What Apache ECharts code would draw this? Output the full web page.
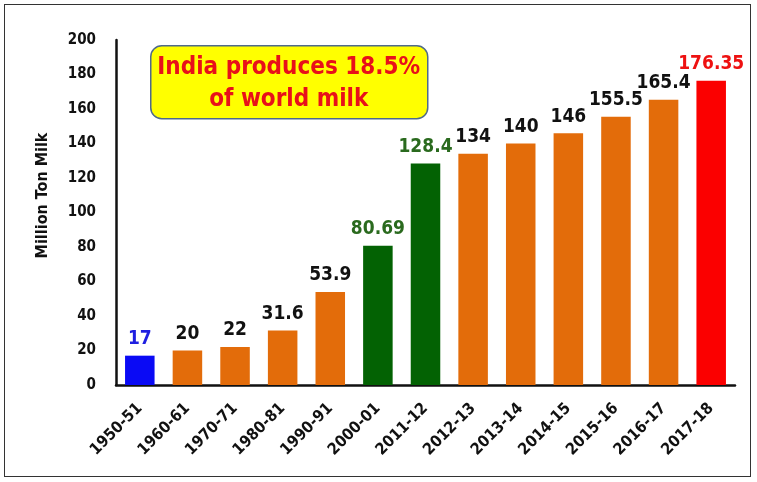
<!DOCTYPE html>
<html>
<head>
<meta charset="utf-8">
<script src="https://cdn.jsdelivr.net/npm/echarts@6/dist/echarts.min.js"></script>
<style>
  html, body { margin: 0; padding: 0; background: #fff; }
  #frame { position: absolute; left: 4px; top: 4px; width: 747px; height: 473px; border: 1.5px solid #333; box-sizing: border-box; }
  #chart { width: 757px; height: 482px; }
</style>
</head>
<body>
<div id="chart"></div>
<div id="frame"></div>
<script>
// Milk production in India (million tonnes)
const categories = ['1950-51', '1960-61', '1970-71', '1980-81', '1990-91', '2000-01', '2011-12',
                    '2012-13', '2013-14', '2014-15', '2015-16', '2016-17', '2017-18'];
const values = [17, 20, 22, 31.6, 53.9, 80.69, 128.4, 134, 140, 146, 155.5, 165.4, 176.35];
const valueLabels = ['17', '20', '22', '31.6', '53.9', '80.69', '128.4', '134', '140', '146', '155.5', '165.4', '176.35'];
const yTicks = [0, 20, 40, 60, 80, 100, 120, 140, 160, 180, 200];

// Fill and label colours per bar
const barColors = ['#0a0af5', '#e36c0a', '#e36c0a', '#e36c0a', '#e36c0a', '#036203', '#036203',
                   '#e36c0a', '#e36c0a', '#e36c0a', '#e36c0a', '#e36c0a', '#fb0000'];
const labelColors = ['#1f1fe0', '#111', '#111', '#111', '#111', '#2a6a1e', '#2a6a1e',
                     '#111', '#111', '#111', '#111', '#111', '#ee1111'];

const FONT = '"Liberation Sans Narrow", "DejaVu Sans Condensed", "Open Sans", sans-serif';

const chart = echarts.init(document.getElementById('chart'), null, { renderer: 'canvas' });
chart.setOption({
  animation: false,
  backgroundColor: '#fff',
  grid: { left: 116, right: 22, top: 40, bottom: 97 },
  xAxis: {
    type: 'category',
    data: categories,
    axisLine: { lineStyle: { color: '#111', width: 2.5 } },
    axisTick: { show: false },
    axisLabel: {
      rotate: 45, color: '#111', fontWeight: 'bold', fontSize: 16, fontFamily: FONT, margin: 21
    }
  },
  yAxis: {
    type: 'value',
    min: yTicks[0], max: yTicks[yTicks.length - 1], interval: 20,
    name: 'Million Ton Milk',
    nameLocation: 'middle',
    nameGap: 65,
    nameTextStyle: {
      color: '#111', fontWeight: 'bold', fontSize: 16, fontFamily: FONT,
      padding: [0, 0, 0, 34]
    },
    axisLine: { show: true, lineStyle: { color: '#111', width: 2.5 } },
    axisTick: { show: false },
    splitLine: { show: false },
    axisLabel: { color: '#111', fontWeight: 'bold', fontSize: 15, fontFamily: FONT, margin: 20 }
  },
  series: [{
    type: 'bar',
    barWidth: '62%',
    data: values.map((v, i) => ({
      value: v,
      itemStyle: { color: barColors[i] },
      label: {
        show: true, position: 'top', distance: 7,
        formatter: valueLabels[i],
        color: labelColors[i], fontWeight: 'bold', fontSize: 19, fontFamily: FONT
      }
    }))
  }],
  graphic: [{
    type: 'group',
    left: 150, top: 45,
    children: [{
      type: 'rect',
      shape: { x: 0, y: 0, width: 277, height: 73, r: 11 },
      style: { fill: '#ffff00', stroke: '#4f6a8a', lineWidth: 1.5 }
    }, {
      type: 'text',
      x: 138, y: 22,
      style: {
        text: 'India produces 18.5%', align: 'center', verticalAlign: 'middle',
        fill: '#e8101a', font: 'bold 24px ' + FONT
      }
    }, {
      type: 'text',
      x: 138, y: 54,
      style: {
        text: 'of world milk', align: 'center', verticalAlign: 'middle',
        fill: '#e8101a', font: 'bold 24px ' + FONT
      }
    }]
  }]
});
</script>
</body>
</html>
